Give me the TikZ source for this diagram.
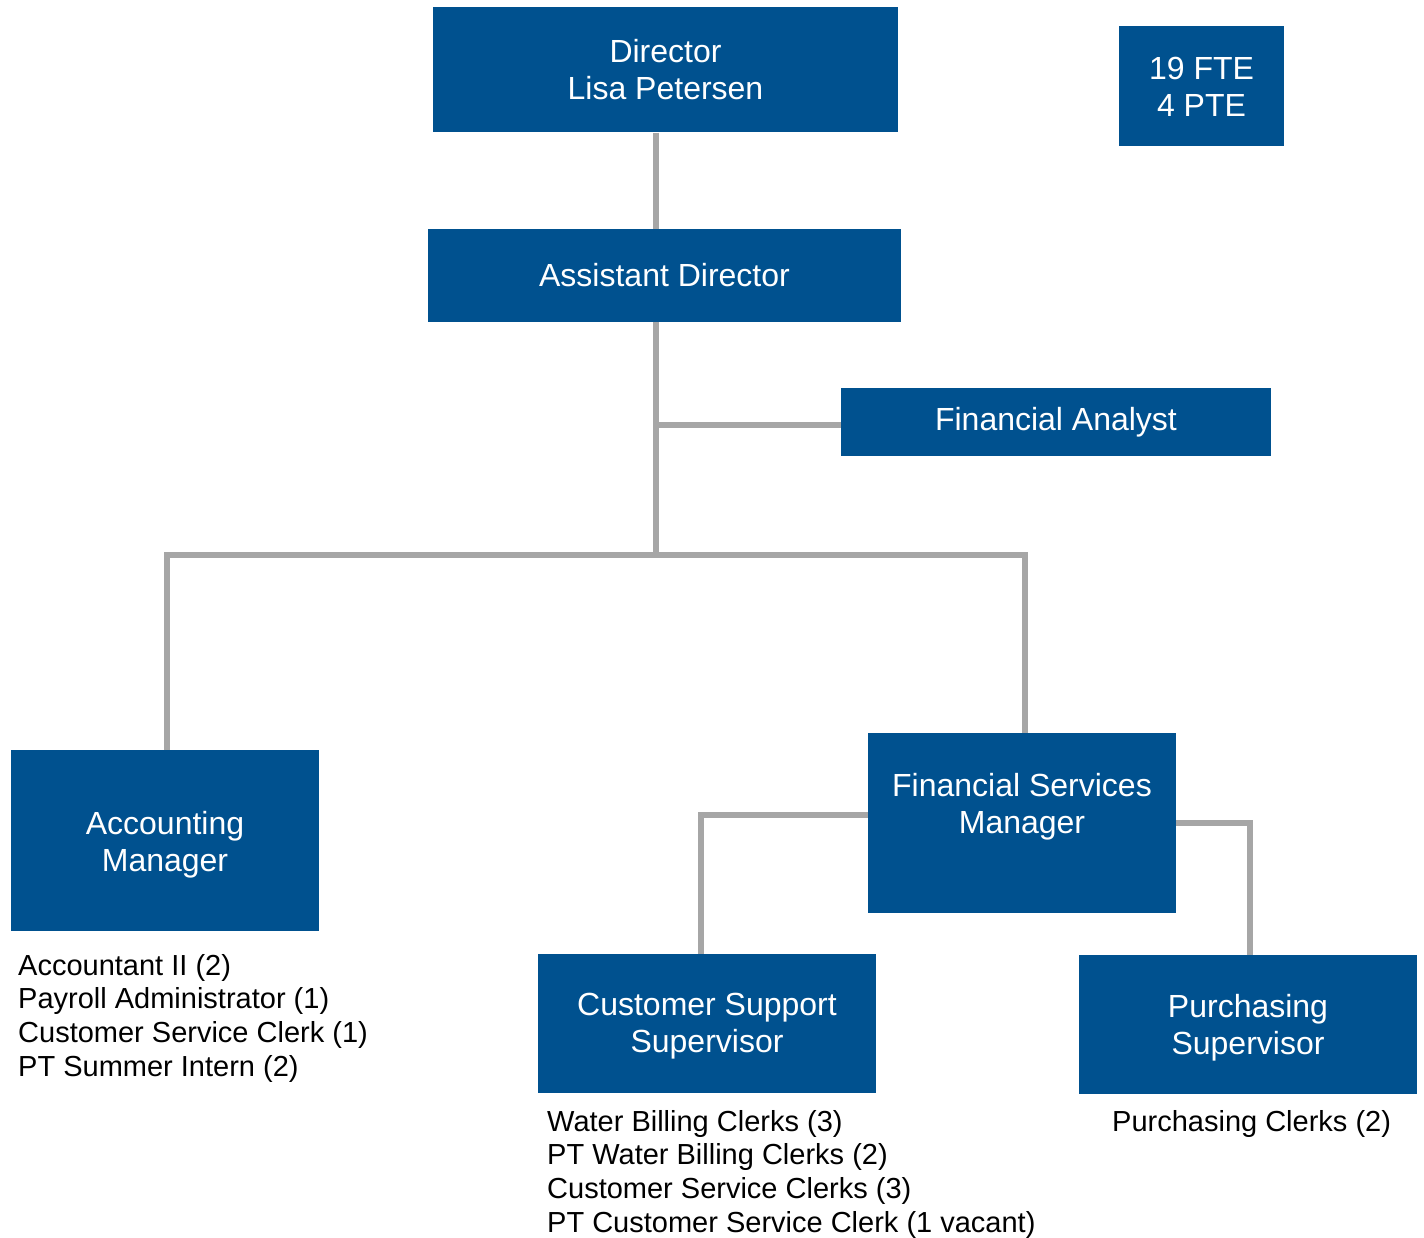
\documentclass[tikz,border=0pt]{standalone}
\usepackage{fontspec}
\setmainfont{Liberation Sans}
\definecolor{boxblue}{HTML}{00518F}
\definecolor{linegray}{HTML}{A6A6A6}
\begin{document}
\begin{tikzpicture}[x=1pt,y=-1pt,
  box/.style={fill=boxblue, draw=none, text=white, font=\fontsize{32}{37}\selectfont, align=center, inner sep=0pt},
  boxtext/.style={text=white, font=\fontsize{32}{37}\selectfont, align=center, inner sep=0pt},
  conn/.style={draw=linegray, line width=6pt},
  list/.style={font=\fontsize{29}{33.7}\selectfont, align=left, inner sep=0pt, anchor=north west}]
\useasboundingbox (0,0) rectangle (1424,1238);

\node[box, minimum width=465pt, minimum height=125pt] (dir) at (665.5,70) {Director\\Lisa Petersen};
\node[box, minimum width=165pt, minimum height=120pt] (fte) at (1201.5,86.5) {19 FTE\\4 PTE};
\node[box, minimum width=473pt, minimum height=93pt] (asst) at (664.5,275.5) {Assistant Director};
\node[box, minimum width=430pt, minimum height=68pt] (fa) at (1056,422) {Financial Analyst};
\node[box, minimum width=308pt, minimum height=181pt] (am) at (165,840.5) {};
\node[boxtext] (amt) at ([yshift=-4pt]am.center) {Accounting\\Manager};
\node[box, minimum width=308pt, minimum height=180pt] (fsm) at (1022,823) {};
\node[boxtext] (fsmt) at ([yshift=16pt]fsm.center) {Financial Services\\Manager};
\node[box, minimum width=338pt, minimum height=139pt] (css) at (707,1023.5) {};
\node[boxtext] (csst) at ([yshift=-3pt]css.center) {Customer Support\\Supervisor};
\node[box, minimum width=338pt, minimum height=139pt] (ps) at (1248,1024.5) {};
\node[boxtext] (pst) at ([yshift=-3pt]ps.center) {Purchasing\\Supervisor};

\coordinate (tk) at (656,555);
\coordinate (fab) at (656,425);

\draw[conn] (dir.south -| tk) -- (asst.north -| tk);
\draw[conn] (asst.south -| tk) -- (tk);
\draw[conn] (fab) -- (fab -| fa.west);
\draw[conn] ([xshift=2pt]am.north) -- ([xshift=2pt]am.north |- tk) -- ([xshift=3pt]fsm.north |- tk) -- ([xshift=3pt]fsm.north);
\draw[conn] ([yshift=8pt]fsm.west) -- ([yshift=8pt,xshift=-6pt]fsm.west -| css.north) -- ([xshift=-6pt]css.north);
\draw[conn] (fsm.east) -| ([xshift=2pt]ps.north);

\node[list] (aml) at (18,954) {Accountant II (2)\\Payroll Administrator (1)\\Customer Service Clerk (1)\\PT Summer Intern (2)};
\node[list] (cssl) at (547,1110) {Water Billing Clerks (3)\\PT Water Billing Clerks (2)\\Customer Service Clerks (3)\\PT Customer Service Clerk (1 vacant)};
\node[list] (psl) at (1112,1110) {Purchasing Clerks (2)};
\end{tikzpicture}
\end{document}
